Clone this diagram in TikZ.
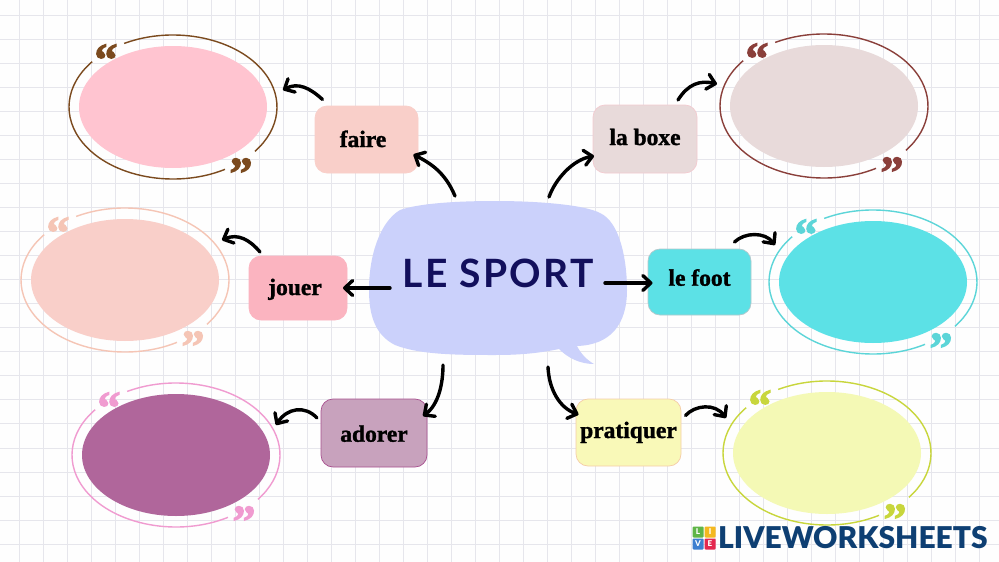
\documentclass[tikz,border=0pt]{standalone}
\usepackage{fontspec}
\usetikzlibrary{arrows.meta,shapes.geometric}
\newfontfamily\boxfont[FakeBold=1.3]{Liberation Serif Bold}
\newfontfamily\quotefont[FakeBold=2.5]{Liberation Serif Bold}
\newfontfamily\hubfont[LetterSpace=6]{Lato Bold}
\newfontfamily\logofont{Lato Black}
\definecolor{gridc}{HTML}{E6E6EC}
\definecolor{hubc}{HTML}{CBD1FB}
\definecolor{navy}{HTML}{120F5C}
\definecolor{logoc}{HTML}{0E3F73}
\newcommand\hexc[1]{\definecolor{#1}{HTML}{#1}}
\hexc{F9CFC9}\hexc{E8DADA}\hexc{F3CBD0}\hexc{FBB4C0}\hexc{5CE1E6}\hexc{B5C8CC}\hexc{C8A2BD}\hexc{A8508F}
\hexc{F9F9B8}\hexc{F5CDA8}\hexc{FFC4D0}\hexc{7B4A1E}\hexc{F5C5B5}\hexc{8A3F3A}\hexc{5CD5D8}\hexc{B0669B}
\hexc{F09BD0}\hexc{F4F9B5}\hexc{C8D63C}\hexc{5FB548}\hexc{F4B820}\hexc{3D7FD0}\hexc{E4284F}
\tikzset{
  x=1pt,y=-1pt,
  arr/.style={line width=3.4pt,line cap=round,line join=round,-{Straight Barb[length=8pt,width=15pt,line width=3.4pt,round]},black},
  wordbox/.style={rectangle,rounded corners=12pt,inner sep=0pt,font=\boxfont\fontsize{23.5}{26}\selectfont,text=black,line width=0.7pt,text height=18pt},
  baseoff/.style={text depth={18pt-2*#1 pt}},
  blob/.style={ellipse,inner sep=0pt,minimum width=188pt,minimum height=122pt,draw=none},
  qmark/.style={anchor=base,inner sep=0pt,font=\quotefont\fontsize{46}{46}\selectfont},
  ringline/.style={line width=1.4pt},
  tile/.style={rounded corners=1pt,minimum size=11pt,inner sep=0pt,text=white,font=\logofont\fontsize{8}{8}\selectfont}
}
% name, x, y, fill, ring colour
\newcommand\quotebubble[5]{%
  \node[blob,fill=#4] (#1) at (#2,#3) {};
  \node[qmark,text=#5] (#1q1) at (#2-67,#3-57+25) {\smash{“}};
  \node[qmark,text=#5] (#1q2) at (#2+68,#3+57+25) {\smash{”}};
  \draw[ringline,#5] ([shift={({104*cos(-118)},{72*sin(-118)})}]#1.center) arc[start angle=-118,end angle=38,x radius=104,y radius=72];
  \draw[ringline,#5] ([shift={({104*cos(60)},{72*sin(60)})}]#1.center) arc[start angle=60,end angle=219,x radius=104,y radius=72];
}
\begin{document}
\begin{tikzpicture}
\useasboundingbox (0,0) rectangle (999,562);
\fill[white!99!gray] (0,0) rectangle (999,562);
\foreach \i in {0,...,40} \draw[gridc,line width=0.8pt] (19+24*\i,0) -- (19+24*\i,562);
\foreach \i in {0,...,22} \draw[gridc,line width=0.8pt] (0,15+24.05*\i) -- (999,15+24.05*\i);

% speech bubble
\fill[hubc] (495,201) .. controls (540,201) and (585,205) .. (600,213)
  .. controls (620,222) and (627,260) .. (627,290)
  .. controls (627,325) and (610,345) .. (577,346)
  .. controls (581,354) and (587,360) .. (594,364)
  .. controls (580,364) and (568,358) .. (559,349)
  .. controls (535,354) and (515,355) .. (495,355)
  .. controls (460,355) and (420,355) .. (395,345)
  .. controls (375,335) and (369,315) .. (369,290)
  .. controls (369,255) and (380,222) .. (400,210)
  .. controls (420,203) and (460,201) .. (495,201) -- cycle;
\node[inner sep=0pt,text=navy,font=\hubfont\fontsize{39}{39}\selectfont] (hub) at (498,273) {LE SPORT};

% word boxes
\node[wordbox,baseoff=7.5,fill=F9CFC9,draw=F9CFC9,minimum width=103pt,minimum height=67pt] (faire) at (366.5,139.5) {\hspace*{-7pt}faire};
\node[wordbox,baseoff=6,fill=E8DADA,draw=F3CBD0,minimum width=104pt,minimum height=68pt] (boxe) at (645,139) {la boxe};
\node[wordbox,baseoff=7,fill=FBB4C0,draw=FBB4C0,minimum width=98pt,minimum height=64pt] (jouer) at (298,288) {\hspace*{-6pt}jouer};
\node[wordbox,baseoff=3.7,fill=5CE1E6,draw=B5C8CC,minimum width=103pt,minimum height=66pt] (foot) at (699.5,282) {le foot};
\node[wordbox,baseoff=8.7,fill=C8A2BD,draw=A8508F,minimum width=106pt,minimum height=68pt] (adorer) at (374,433) {adorer};
\node[wordbox,baseoff=5.5,fill=F9F9B8,draw=F5CDA8,minimum width=105pt,minimum height=67pt] (pratiquer) at (628.5,432.5) {pratiquer};

% answer bubbles
\quotebubble{efaire}{173}{107}{FFC4D0}{7B4A1E}
\quotebubble{ejouer}{125}{280}{F9CFC9}{F5C5B5}
\quotebubble{eboxe}{824}{106}{E8DADA}{8A3F3A}
\quotebubble{efoot}{873}{282}{5CE1E6}{5CD5D8}
\quotebubble{eadorer}{176}{455}{B0669B}{F09BD0}
\quotebubble{eprat}{827}{453}{F4F9B5}{C8D63C}

% connectors
\draw[arr] ([shift={(-43,-77)}]hub.center) .. controls (445,172) and (430,163) .. ([shift={(47,15)}]faire.center);
\draw[arr] ([shift={(-44,-40)}]faire.center) .. controls (310,88) and (298,82) .. ([shift={(110,-17)}]efaire.center);
\draw[arr] ([shift={(-38,-36)}]jouer.center) .. controls (250,240) and (238,233) .. ([shift={(97,-40)}]ejouer.center);
\draw[arr] ([shift={(-108,15)}]hub.center) -- ([shift={(45,0)}]jouer.center);
\draw[arr] ([shift={(-55,92)}]hub.center) .. controls (443,385) and (438,405) .. ([shift={(49,-17)}]adorer.center);
\draw[arr] ([shift={(-57,-15)}]adorer.center) .. controls (305,405) and (287,408) .. ([shift={(100,-30)}]eadorer.center);
\draw[arr] ([shift={(50,94)}]hub.center) .. controls (549,390) and (560,408) .. ([shift={(-50,-18)}]pratiquer.center);
\draw[arr] ([shift={(57,-17)}]pratiquer.center) .. controls (695,405) and (715,403) .. ([shift={(-101,-35)}]eprat.center);
\draw[arr] ([shift={(107,10)}]hub.center) -- ([shift={(-47,1)}]foot.center);
\draw[arr] ([shift={(35,-40)}]foot.center) .. controls (745,232) and (765,232) .. ([shift={(-98,-37)}]efoot.center);
\draw[arr] ([shift={(51,-76)}]hub.center) .. controls (555,180) and (572,160) .. ([shift={(-51,17)}]boxe.center);
\draw[arr] ([shift={(33,-39)}]boxe.center) .. controls (688,84) and (700,80) .. ([shift={(-107,-22)}]eboxe.center);

% logo
\node[tile,fill=5FB548] (tl) at (698,532) {L};
\node[tile,fill=F4B820] (ti) at (710,532) {I};
\node[tile,fill=3D7FD0] (tv) at (698,544) {V};
\node[tile,fill=E4284F] (te) at (710,544) {E};
\node[anchor=west,inner sep=0pt,text=logoc,font=\logofont\fontsize{30}{30}\selectfont] (logo) at (718,538) {LIVEWORKSHEETS};
\end{tikzpicture}
\end{document}
